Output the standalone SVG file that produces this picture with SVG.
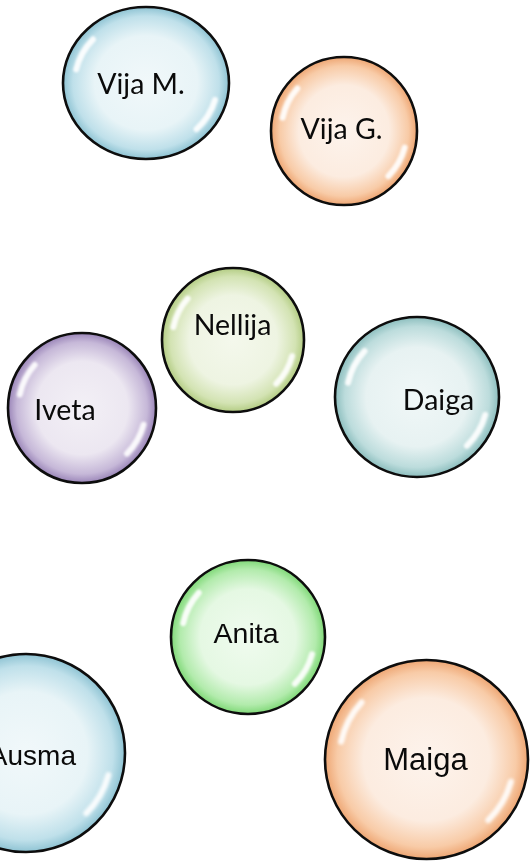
<svg xmlns="http://www.w3.org/2000/svg" xmlns:xlink="http://www.w3.org/1999/xlink" width="530" height="861" viewBox="0 0 530 861">
<style>
.ball{stroke:#0d0d0d;stroke-width:2.6}
.cal{font-family:Lato,"Open Sans","Liberation Sans",sans-serif;font-size:28.5px;fill:#0a0a0a}
.ari{font-family:"Liberation Sans",Arial,sans-serif;fill:#0a0a0a}
.hl{fill:none;stroke:#fff;stroke-width:6;stroke-linecap:round;opacity:0.9}
</style>
<defs>
<filter id="soft" x="-20%" y="-20%" width="140%" height="140%"><feGaussianBlur stdDeviation="1.5"/></filter>
<radialGradient id="gBlue" cx="50%" cy="50%" r="50%"><stop offset="0" stop-color="#f1f8fa"/><stop offset="0.62" stop-color="#e8f4f7"/><stop offset="0.88" stop-color="#bfe0ea"/><stop offset="1" stop-color="#8ec3d3"/></radialGradient>
<radialGradient id="gOrange" cx="50%" cy="50%" r="50%"><stop offset="0" stop-color="#fdf3ec"/><stop offset="0.62" stop-color="#fcece0"/><stop offset="0.88" stop-color="#f8cba7"/><stop offset="1" stop-color="#eea673"/></radialGradient>
<radialGradient id="gOlive" cx="50%" cy="50%" r="50%"><stop offset="0" stop-color="#f4f8ec"/><stop offset="0.62" stop-color="#eef4e2"/><stop offset="0.88" stop-color="#d3e3b3"/><stop offset="1" stop-color="#b3cc83"/></radialGradient>
<radialGradient id="gPurple" cx="50%" cy="50%" r="50%"><stop offset="0" stop-color="#f3f0f6"/><stop offset="0.62" stop-color="#ece7f1"/><stop offset="0.88" stop-color="#c6b8d8"/><stop offset="1" stop-color="#9a85b8"/></radialGradient>
<radialGradient id="gTeal" cx="50%" cy="50%" r="50%"><stop offset="0" stop-color="#f0f7f7"/><stop offset="0.62" stop-color="#e7f2f2"/><stop offset="0.88" stop-color="#bcdcdc"/><stop offset="1" stop-color="#8cbebe"/></radialGradient>
<radialGradient id="gGreen" cx="50%" cy="50%" r="50%"><stop offset="0" stop-color="#f0fbef"/><stop offset="0.62" stop-color="#e5f8e3"/><stop offset="0.88" stop-color="#b2ebac"/><stop offset="1" stop-color="#7fd877"/></radialGradient>
<g id="hl" filter="url(#soft)">
<path class="hl" vector-effect="non-scaling-stroke" d="M -84.1 -17.9 A 86 86 0 0 1 -63.9 -57.5"/>
<path class="hl" vector-effect="non-scaling-stroke" d="M 83.1 22.3 A 86 86 0 0 1 60.8 60.8"/>
</g>
</defs>

<g id="node-vija-m">
<ellipse class="ball" cx="146" cy="83" rx="83" ry="76" fill="url(#gBlue)"/>
<use xlink:href="#hl" href="#hl" transform="translate(146 83) scale(0.83 0.76)"/>
<text class="cal" x="141" y="94" text-anchor="middle">Vija M.</text>
</g>

<g id="node-vija-g">
<ellipse class="ball" cx="344" cy="131" rx="73" ry="74" fill="url(#gOrange)"/>
<use xlink:href="#hl" href="#hl" transform="translate(344 131) scale(0.73 0.74)"/>
<text class="cal" x="341.5" y="139" text-anchor="middle">Vija G.</text>
</g>

<g id="node-nellija">
<ellipse class="ball" cx="233" cy="340" rx="71" ry="72" fill="url(#gOlive)"/>
<use xlink:href="#hl" href="#hl" transform="translate(233 340) scale(0.71 0.72)"/>
<text class="cal" x="232.5" y="335" text-anchor="middle">Nellija</text>
</g>

<g id="node-iveta">
<ellipse class="ball" cx="82" cy="408" rx="74" ry="75" fill="url(#gPurple)"/>
<use xlink:href="#hl" href="#hl" transform="translate(82 408) scale(0.74 0.75)"/>
<text class="cal" x="65" y="420" text-anchor="middle">Iveta</text>
</g>

<g id="node-daiga">
<ellipse class="ball" cx="417" cy="397" rx="82" ry="80" fill="url(#gTeal)"/>
<use xlink:href="#hl" href="#hl" transform="translate(417 397) scale(0.82 0.8)"/>
<text class="cal" x="438.5" y="410" text-anchor="middle">Daiga</text>
</g>

<g id="node-anita">
<ellipse class="ball" cx="248" cy="637" rx="77" ry="77" fill="url(#gGreen)"/>
<use xlink:href="#hl" href="#hl" transform="translate(248 637) scale(0.77 0.77)"/>
<text class="ari" x="246" y="643" text-anchor="middle" font-size="28.5">Anita</text>
</g>

<g id="node-ausma">
<ellipse class="ball" cx="26" cy="753" rx="99" ry="99" fill="url(#gBlue)"/>
<use xlink:href="#hl" href="#hl" transform="translate(26 753) scale(0.99 0.99)"/>
<text class="ari" x="76" y="765" text-anchor="end" font-size="28">Ausma</text>
</g>

<g id="node-maiga">
<ellipse class="ball" cx="426.5" cy="759.5" rx="101.5" ry="99.5" fill="url(#gOrange)"/>
<use xlink:href="#hl" href="#hl" transform="translate(426.5 759.5) scale(1.015 0.995)"/>
<text class="ari" x="425.5" y="770" text-anchor="middle" font-size="31">Maiga</text>
</g>
</svg>
